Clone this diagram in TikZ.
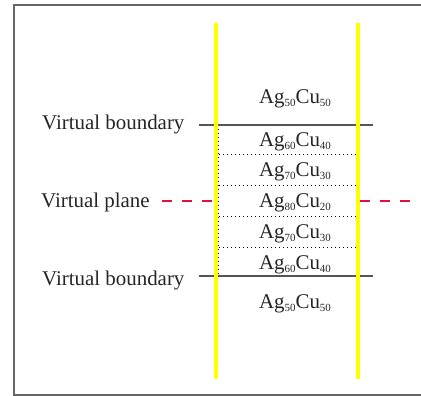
\documentclass[tikz,border=0pt]{standalone}
\usepackage{fontspec}
\setmainfont{Liberation Serif}
\newcommand{\agsub}[1]{\raisebox{-3bp}{\fontsize{11}{11}\selectfont #1}}
\newcommand{\comp}[2]{Ag\agsub{#1}Cu\agsub{#2}}
\definecolor{ylw}{HTML}{FFFF00}
\definecolor{crim}{HTML}{E3103A}
\definecolor{frm}{HTML}{666666}
\definecolor{bnd}{HTML}{555555}
\begin{document}
\begin{tikzpicture}[x=1bp,y=-1bp,
  txt/.style={inner sep=0pt,font=\fontsize{21}{25}\selectfont,text=black!85},
  comptxt/.style={txt,anchor=base},
  lbl/.style={txt,anchor=base west},
  yline/.style={draw=ylw,line width=4bp},
  bline/.style={draw=bnd,line width=1.2bp},
  dline/.style={draw=black,line width=0.9bp,dash pattern=on 1bp off 3bp},
  rline/.style={draw=crim,line width=2bp,dash pattern=on 10bp off 10bp}]
\useasboundingbox (0,0) rectangle (421,396);
\clip (0,0) rectangle (421,396);
\fill[white] (0,0) rectangle (421,396);
% frame
\draw[frm,line width=1.5bp] (14,5) rectangle (440,395);
% dotted layer lines
\foreach \yy in {154,185,216,247}
  \draw[dline] (219,\yy) -- (356,\yy);
\draw[dline] (218.5,125) -- (218.5,276);
\draw[dline] (356.5,125) -- (356.5,276);
% boundary lines
\draw[bline] (199,125) -- (373,125);
\draw[bline] (199,276) -- (373,276);
% yellow walls
\draw[yline] (216,23) -- (216,379);
\draw[yline] (358,23) -- (358,379);
% virtual plane
\draw[rline] (162,201) -- (214,201);
\draw[rline] (360,201) -- (410,201);
% labels
\node[lbl] (vb1) at (42,129) {Virtual boundary};
\node[lbl] (vp) at (41,207) {Virtual plane};
\node[lbl] (vb2) at (42,285) {Virtual boundary};
% compositions
\node[comptxt] (c1) at (295,103) {\comp{50}{50}};
\node[comptxt] (c2) at (295,146) {\comp{60}{40}};
\node[comptxt] (c3) at (295,176) {\comp{70}{30}};
\node[comptxt] (c4) at (295,207) {\comp{80}{20}};
\node[comptxt] (c5) at (295,238) {\comp{70}{30}};
\node[comptxt] (c6) at (295,269) {\comp{60}{40}};
\node[comptxt] (c7) at (295,308) {\comp{50}{50}};
\end{tikzpicture}
\end{document}
